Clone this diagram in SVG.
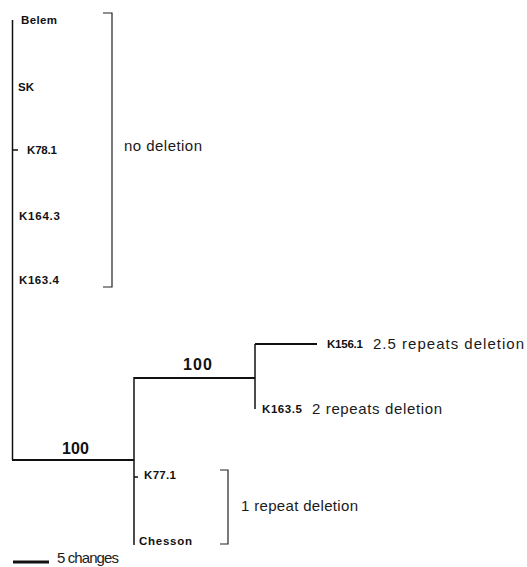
<svg xmlns="http://www.w3.org/2000/svg" width="527" height="567" viewBox="0 0 527 567">
<style>
.leaf{font-family:"Liberation Sans",Arial,sans-serif;font-weight:bold;font-size:11.5px;fill:#111}
.note{font-family:"Liberation Sans",Arial,sans-serif;font-size:15px;fill:#1a1a1a}
.boot{font-family:"Liberation Sans",Arial,sans-serif;font-weight:bold;font-size:16px;fill:#111}
.br{fill:none;stroke:#222;stroke-width:1.2}
.edge{fill:none;stroke:#111;stroke-width:1.5}
.hedge{fill:none;stroke:#111;stroke-width:1.8}
</style>
<rect width="527" height="567" fill="#fff"/>
<g id="connectors">
  <path class="edge" d="M12.5,20 V460"/>
  <path class="edge" d="M12,150 H18"/>
  <path class="hedge" d="M12,460 H134"/>
  <path class="edge" d="M134,377 V545"/>
  <path class="edge" d="M134,477 H138"/>
  <path class="hedge" d="M134,378 H255"/>
  <path class="edge" d="M255,344 V409"/>
  <path class="hedge" d="M255,344 H317"/>
</g>
<g id="support">
  <text class="boot" x="62" y="454" textLength="27">100</text>
  <text class="boot" x="183" y="370" textLength="29">100</text>
</g>
<g id="Belem"><text class="leaf" x="21" y="24" textLength="36">Belem</text></g>
<g id="SK"><text class="leaf" x="18" y="91">SK</text></g>
<g id="K78.1"><text class="leaf" x="27" y="154" textLength="30">K78.1</text></g>
<g id="K164.3"><text class="leaf" x="19" y="220" textLength="41">K164.3</text></g>
<g id="K163.4"><text class="leaf" x="19" y="284" textLength="40">K163.4</text></g>
<g id="K156.1"><text class="leaf" x="327" y="348" textLength="36">K156.1</text></g>
<g id="K163.5"><text class="leaf" x="262" y="413" textLength="40">K163.5</text></g>
<g id="K77.1"><text class="leaf" x="144" y="479" textLength="32">K77.1</text></g>
<g id="Chesson"><text class="leaf" x="139" y="545" textLength="53">Chesson</text></g>
<g id="no-deletion">
  <path class="br" d="M103,13 H112 V287 H103"/>
  <text class="note" x="124" y="151" textLength="78">no deletion</text>
</g>
<g id="rep-2-5"><text class="note" x="373" y="349" textLength="151">2.5 repeats deletion</text></g>
<g id="rep-2"><text class="note" x="312" y="414" textLength="130">2 repeats deletion</text></g>
<g id="rep-1">
  <path class="br" d="M220,470 H228 V544 H220"/>
  <text class="note" x="241" y="511" textLength="117">1 repeat deletion</text>
</g>
<g id="scale">
  <path d="M13,562 H49" stroke="#111" stroke-width="3"/>
  <text class="note" x="57" y="563" font-size="14" textLength="62">5 changes</text>
</g>
</svg>
